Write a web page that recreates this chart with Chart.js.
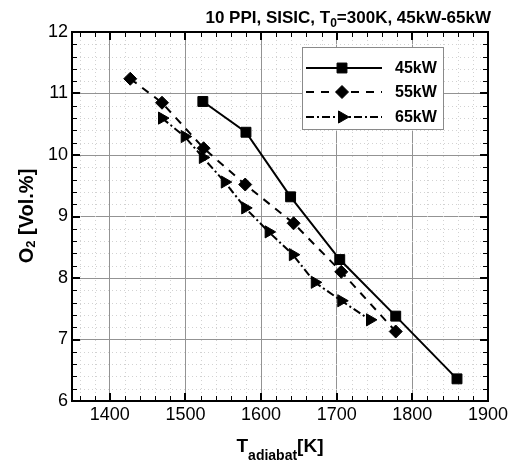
<!DOCTYPE html>
<html><head><meta charset="utf-8">
<script src="https://cdn.jsdelivr.net/npm/chart.js@4/dist/chart.umd.min.js"></script>
<style>html,body{margin:0;padding:0;background:#fff}</style>
</head><body>
<canvas id="c" width="512" height="467"></canvas>
<script>
// ---- data ----
const seriesNames = ['45kW', '55kW', '65kW'];
const t45 = [1523, 1580, 1639, 1704, 1778, 1859];
const o45 = [10.87, 10.37, 9.32, 8.30, 7.38, 6.36];
const t55 = [1427, 1469, 1524, 1579, 1643, 1706, 1778];
const o55 = [11.24, 10.85, 10.11, 9.52, 8.89, 8.10, 7.13];
const t65 = [1469, 1499, 1523, 1552, 1579, 1610, 1642, 1671, 1706, 1744];
const o65 = [10.60, 10.30, 9.96, 9.56, 9.14, 8.75, 8.38, 7.93, 7.63, 7.32];
const xTickLabels = [1400, 1500, 1600, 1700, 1800, 1900];
const yTickLabels = [6, 7, 8, 9, 10, 11, 12];
const titleText = ['10 PPI, SISIC, T', '0', '=300K, 45kW-65kW'];
const xTitleText = ['T', 'adiabat', '[K]'];
const yTitleText = ['O', '2', ' [Vol.%]'];

const FAM = '"Liberation Sans", Arial, Helvetica, sans-serif';
const xTicks = []; for (let v = 1360; v <= 1900; v += 20) xTicks.push(v);
const yTicks = []; for (let i = 0; i <= 30; i++) yTicks.push(Math.round((6 + i * 0.2) * 10) / 10);
const isMajX = v => xTickLabels.includes(v);
const isMajY = v => yTickLabels.includes(v);

const styles = [
  {dash: [], pointStyle: 'rect', radius: 7, rotation: 0},
  {dash: [8, 7], pointStyle: 'rectRot', radius: 6.5, rotation: 0},
  {dash: [8, 3, 2, 3], pointStyle: 'triangle', radius: 7, rotation: 90}
];
const xs = [t45, t55, t65], ys = [o45, o55, o65];

const datasets = seriesNames.map((n, k) => ({
  label: n,
  data: xs[k].map((t, i) => ({x: t, y: ys[k][i]})),
  borderColor: '#000', backgroundColor: '#000', borderWidth: 2,
  borderDash: styles[k].dash, tension: 0, fill: false,
  pointStyle: styles[k].pointStyle, pointRadius: styles[k].radius,
  pointRotation: styles[k].rotation, pointBorderWidth: 1,
  pointBorderColor: '#000', pointBackgroundColor: '#000'
}));

function drawRich(ctx, parts, x, y, align) {
  let w = 0;
  parts.forEach(p => { ctx.font = 'bold ' + p[1] + 'px ' + FAM; p.w = ctx.measureText(p[0]).width; w += p.w; });
  let cx = align === 'right' ? x - w : align === 'center' ? x - w / 2 : x;
  ctx.textAlign = 'left'; ctx.textBaseline = 'alphabetic';
  parts.forEach(p => { ctx.font = 'bold ' + p[1] + 'px ' + FAM; ctx.fillText(p[0], cx, y + p[2]); cx += p.w; });
}

const decor = {
  id: 'decor',
  beforeDatasetsDraw(chart) {
    const {ctx, chartArea: a, scales: {x, y}} = chart;
    ctx.save();
    ctx.strokeStyle = '#d2d2d2'; ctx.lineWidth = 1; ctx.setLineDash([1, 3]);
    xTicks.forEach(v => { if (isMajX(v)) return; const p = Math.round(x.getPixelForValue(v)) + 0.5;
      ctx.beginPath(); ctx.moveTo(p, a.top); ctx.lineTo(p, a.bottom); ctx.stroke(); });
    yTicks.forEach(v => { if (isMajY(v)) return; const p = Math.round(y.getPixelForValue(v)) + 0.5;
      ctx.beginPath(); ctx.moveTo(a.left, p); ctx.lineTo(a.right, p); ctx.stroke(); });
    ctx.setLineDash([]);
    ctx.strokeStyle = '#000';
    xTicks.forEach(v => { const maj = isMajX(v); const L = maj ? 8 : 5; ctx.lineWidth = maj ? 2 : 1;
      const p = maj ? Math.round(x.getPixelForValue(v)) : Math.round(x.getPixelForValue(v)) + 0.5;
      ctx.beginPath(); ctx.moveTo(p, a.bottom); ctx.lineTo(p, a.bottom - L);
      ctx.moveTo(p, a.top); ctx.lineTo(p, a.top + L); ctx.stroke(); });
    yTicks.forEach(v => { const maj = isMajY(v); const L = maj ? 8 : 5; ctx.lineWidth = maj ? 2 : 1;
      const p = maj ? Math.round(y.getPixelForValue(v)) : Math.round(y.getPixelForValue(v)) + 0.5;
      ctx.beginPath(); ctx.moveTo(a.left, p); ctx.lineTo(a.left + L, p);
      ctx.moveTo(a.right, p); ctx.lineTo(a.right - L, p); ctx.stroke(); });
    ctx.lineWidth = 2;
    ctx.strokeRect(a.left, a.top, a.right - a.left, a.bottom - a.top);
    ctx.restore();
  },
  afterDatasetsDraw(chart) {
    const ctx = chart.ctx;
    ctx.save();
    const bx = 302.5, by = 47.5, bw = 141, bh = 82;
    ctx.fillStyle = '#fff'; ctx.fillRect(bx, by, bw, bh);
    ctx.strokeStyle = '#8a8a8a'; ctx.lineWidth = 1; ctx.strokeRect(bx, by, bw, bh);
    const rows = [68, 92, 117];
    seriesNames.forEach((n, k) => {
      const yy = rows[k];
      ctx.strokeStyle = '#000'; ctx.lineWidth = 2; ctx.setLineDash(styles[k].dash);
      ctx.beginPath(); ctx.moveTo(306, yy); ctx.lineTo(382, yy); ctx.stroke();
      ctx.setLineDash([]);
      ctx.fillStyle = '#000'; ctx.lineWidth = 1;
      Chart.helpers.drawPoint(ctx, {pointStyle: styles[k].pointStyle, radius: styles[k].radius,
        rotation: styles[k].rotation, borderWidth: 1}, 342, yy);
      ctx.fillStyle = '#000'; ctx.font = 'bold 16px ' + FAM; ctx.textAlign = 'left'; ctx.textBaseline = 'middle';
      ctx.fillText(n, 395, yy + 1);
    });
    ctx.restore();
  },
  afterDraw(chart) {
    const ctx = chart.ctx;
    ctx.save(); ctx.fillStyle = '#000';
    drawRich(ctx, [[titleText[0], 17, 0], [titleText[1], 12, 4], [titleText[2], 17, 0]], 491, 23, 'right');
    drawRich(ctx, [[xTitleText[0], 19, 0], [xTitleText[1], 14, 8], [xTitleText[2], 19, 0]], 280, 452, 'center');
    ctx.translate(33, 216); ctx.rotate(-Math.PI / 2);
    drawRich(ctx, [[yTitleText[0], 20, 0], [yTitleText[1], 13, 2], [yTitleText[2], 20, 0]], 0, 0, 'center');
    ctx.restore();
  }
};

new Chart(document.getElementById('c'), {
  type: 'line',
  data: {datasets},
  plugins: [decor],
  options: {
    responsive: false, animation: false, devicePixelRatio: 1,
    layout: {padding: {left: 0, right: 24, top: 32, bottom: 0}},
    plugins: {legend: {display: false}, tooltip: {enabled: false}},
    scales: {
      x: {
        type: 'linear', min: 1350, max: 1900,
        afterBuildTicks: s => { s.ticks = xTicks.map(v => ({value: v})); },
        afterFit: s => { s.height = 66; },
        grid: {drawTicks: false, lineWidth: 1,
          color: c => (c.tick && isMajX(c.tick.value)) ? '#939393' : 'rgba(0,0,0,0)'},
        border: {display: false},
        ticks: {autoSkip: false, maxRotation: 0, padding: 3, color: '#000',
          font: {family: FAM, size: 18}, callback: v => isMajX(v) ? String(v) : ''}
      },
      y: {
        type: 'linear', min: 6, max: 12,
        afterBuildTicks: s => { s.ticks = yTicks.map(v => ({value: v})); },
        afterFit: s => { s.width = 72; },
        grid: {drawTicks: false, lineWidth: 1,
          color: c => (c.tick && isMajY(c.tick.value)) ? '#939393' : 'rgba(0,0,0,0)'},
        border: {display: false},
        ticks: {autoSkip: false, padding: 4, color: '#000',
          font: {family: FAM, size: 18}, callback: v => isMajY(v) ? String(v) : ''}
      }
    }
  }
});
</script>
</body></html>
